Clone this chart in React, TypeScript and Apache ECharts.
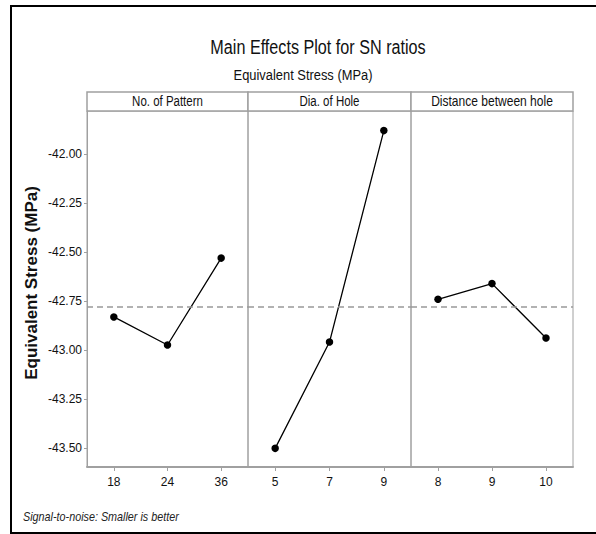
import React, { useEffect, useRef } from "react";
import * as echarts from "echarts";

const patternCats = ["18", "24", "36"];
const patternVals = [-42.83, -42.973, -42.53];
const holeCats = ["5", "7", "9"];
const holeVals = [-43.5, -42.958, -41.88];
const distCats = ["8", "9", "10"];
const distVals = [-42.74, -42.66, -42.937];
const meanValue = -42.78;
const yTicks = [-43.5, -43.25, -43.0, -42.75, -42.5, -42.25, -42.0];
const panelTitles = ["No. of Pattern", "Dia. of Hole", "Distance between hole"];

const FONT = "'Liberation Sans', Arial, sans-serif";

export default function App() {
  const ref = useRef<HTMLDivElement>(null);
  useEffect(() => {
    if (!ref.current) return;
    const chart = echarts.init(ref.current, null, { renderer: "svg" });
    const panels = [
      { cats: patternCats, vals: patternVals, left: 87, width: 161 },
      { cats: holeCats, vals: holeVals, left: 248, width: 163 },
      { cats: distCats, vals: distVals, left: 411, width: 162 },
    ];
    const top = 111;
    const height = 356;
    const grid = panels.map((p) => ({
      left: p.left,
      top,
      width: p.width,
      height,
      show: true,
      borderColor: "#a0a0a0",
      borderWidth: 1,
      backgroundColor: "transparent",
    }));
    const xAxis = panels.map((p, i) => ({
      type: "category",
      gridIndex: i,
      data: p.cats,
      boundaryGap: true,
      axisLine: { show: true, lineStyle: { color: "#a0a0a0", width: 2 } },
      axisTick: { show: true, alignWithLabel: true, length: 4, lineStyle: { color: "#a0a0a0" } },
      axisLabel: { color: "#111", fontFamily: FONT, fontSize: 12, margin: 9 },
      splitLine: { show: false },
    }));
    const yAxis = panels.map((p, i) => ({
      type: "value",
      gridIndex: i,
      min: -43.595,
      max: -41.78,
      axisLine: { show: i === 0, lineStyle: { color: "#a0a0a0" } },
      axisTick: {
        show: i === 0,
        length: 3,
        customValues: yTicks,
        lineStyle: { color: "#a0a0a0" },
      },
      axisLabel: {
        show: i === 0,
        customValues: yTicks,
        formatter: (v: number) => v.toFixed(2),
        color: "#111",
        fontFamily: FONT,
        fontSize: 12,
        margin: 5,
      },
      splitLine: { show: false },
    }));
    const series = panels.map((p, i) => ({
      type: "line",
      xAxisIndex: i,
      yAxisIndex: i,
      data: p.vals,
      symbol: "circle",
      symbolSize: 7.5,
      itemStyle: { color: "#000" },
      lineStyle: { color: "#000", width: 1.3 },
      markLine: {
        silent: true,
        symbol: "none",
        label: { show: false },
        lineStyle: { color: "#999", type: [6, 4], width: 1.5 },
        data: [{ yAxis: meanValue }],
      },
    }));
    const graphic: any[] = [
      {
        type: "rect",
        shape: { x: 11, y: 6, width: 600, height: 527 },
        style: { fill: "none", stroke: "#000", lineWidth: 2 },
        silent: true,
      },
      {
        type: "text",
        x: 318,
        y: 47,
        scaleX: 0.77,
        style: {
          text: "Main Effects Plot for SN ratios",
          fontFamily: FONT,
          fontSize: 21,
          fill: "#111",
          align: "center",
          verticalAlign: "middle",
        },
      },
      {
        type: "text",
        x: 303,
        y: 75,
        scaleX: 0.86,
        style: {
          text: "Equivalent Stress (MPa)",
          fontFamily: FONT,
          fontSize: 15,
          fill: "#111",
          align: "center",
          verticalAlign: "middle",
        },
      },
      {
        type: "text",
        x: 31,
        y: 283,
        rotation: Math.PI / 2,
        style: {
          text: "Equivalent Stress (MPa)",
          fontFamily: FONT,
          fontWeight: "bold",
          fontSize: 17,
          fill: "#111",
          align: "center",
          verticalAlign: "middle",
        },
      },
      {
        type: "text",
        x: 23,
        y: 517,
        scaleX: 0.83,
        style: {
          text: "Signal-to-noise: Smaller is better",
          fontFamily: FONT,
          fontStyle: "italic",
          fontSize: 13,
          fill: "#222",
          align: "left",
          verticalAlign: "middle",
        },
      },
    ];
    panels.forEach((p, i) => {
      graphic.push({
        type: "rect",
        shape: { x: p.left, y: 92, width: p.width, height: 19 },
        style: { fill: "#fff", stroke: "#a0a0a0", lineWidth: 1.5 },
        silent: true,
      });
      graphic.push({
        type: "text",
        x: p.left + p.width / 2,
        y: 101.5,
        scaleX: i === 2 ? 0.86 : 0.82,
        style: {
          text: panelTitles[i],
          fontFamily: FONT,
          fontSize: 14,
          fill: "#111",
          align: "center",
          verticalAlign: "middle",
        },
      });
    });
    chart.setOption({
      animation: false,
      backgroundColor: "#fff",
      grid,
      xAxis,
      yAxis,
      series,
      graphic,
    });
    return () => chart.dispose();
  }, []);
  return (
    <div
      ref={ref}
      style={{ position: "fixed", left: 0, top: 0, width: 596, height: 534 }}
    />
  );
}
